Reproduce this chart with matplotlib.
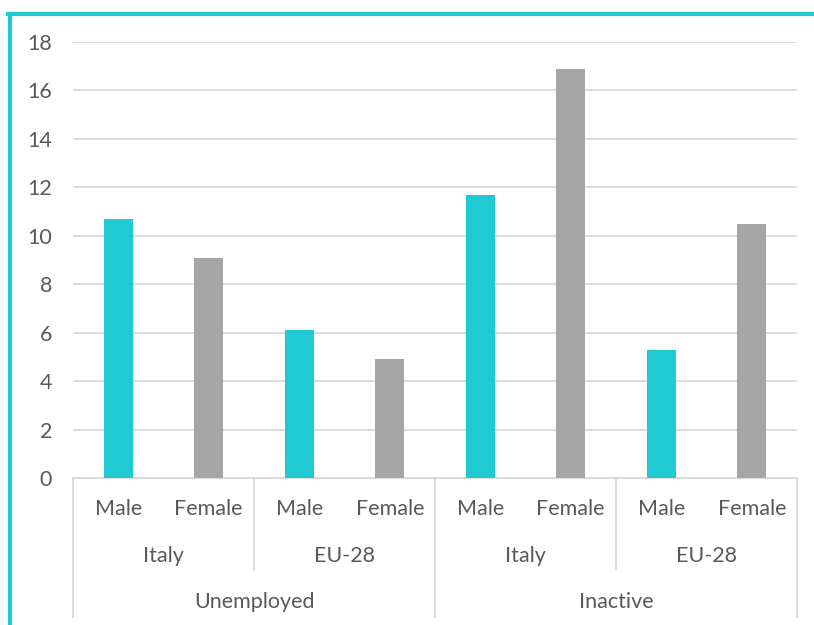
import matplotlib.pyplot as plt
from matplotlib.lines import Line2D
from matplotlib.transforms import blended_transform_factory

# Share of people (%) by status, area and sex
status = ['Unemployed', 'Inactive']
areas = ['Italy', 'EU-28']
sexes = ['Male', 'Female']
male_values = [10.7, 6.1, 11.7, 5.3]      # Italy/EU-28 unemployed, Italy/EU-28 inactive
female_values = [9.1, 4.9, 16.9, 10.5]

CYAN = '#1FCAD3'
GRAY = '#A5A5A5'
TEXT = '#595959'
GRID = '#D9D9D9'

plt.rcParams['font.family'] = ['Lato', 'DejaVu Sans']

fig = plt.figure(figsize=(8.14, 6.25), dpi=100)
ax = fig.add_axes([73 / 814, 147 / 625, 724 / 814, 436 / 625])

n = len(male_values)
male_x = [2 * i + 0.5 for i in range(n)]
female_x = [2 * i + 1.5 for i in range(n)]
ax.bar(male_x, male_values, width=0.32, color=CYAN, zorder=3)
ax.bar(female_x, female_values, width=0.32, color=GRAY, zorder=3)

ax.set_xlim(0, 2 * n)
ax.set_ylim(0, 18)
ax.set_yticks(range(0, 19, 2))
ax.yaxis.grid(True, color=GRID, linewidth=1.3, zorder=0)
ax.tick_params(axis='y', length=0, pad=15, labelsize=15.5, labelcolor=TEXT)
ax.set_xticks([])
for side in ['left', 'right', 'top']:
    ax.spines[side].set_visible(False)
ax.spines['bottom'].set_color(GRID)
ax.spines['bottom'].set_linewidth(1.3)

# Multi-level category axis
tr = blended_transform_factory(ax.transData, ax.transAxes)
fs = 15.5
for i in range(n):
    ax.text(male_x[i], -0.071, sexes[0], transform=tr, ha='center', va='center',
            fontsize=fs, color=TEXT)
    ax.text(female_x[i], -0.071, sexes[1], transform=tr, ha='center', va='center',
            fontsize=fs, color=TEXT)
    ax.text(2 * i + 1, -0.179, areas[i % 2], transform=tr, ha='center', va='center',
            fontsize=fs, color=TEXT)
for j, s in enumerate(status):
    ax.text(4 * j + 2, -0.284, s, transform=tr, ha='center', va='center',
            fontsize=fs, color=TEXT)

for k in range(n + 1):
    bottom = -0.319 if k % 2 == 0 else -0.211
    ax.plot([2 * k, 2 * k], [0, bottom], transform=tr, color=GRID,
            linewidth=1.3, clip_on=False)

# Frame accent along the top and left edges
fig.add_artist(Line2D([10 / 814, 10 / 814], [0, 611 / 625], color=CYAN,
                      linewidth=3.0, transform=fig.transFigure))
fig.add_artist(Line2D([8 / 814, 1], [611 / 625, 611 / 625], color=CYAN,
                      linewidth=3.0, transform=fig.transFigure))

fig.savefig('out.png', dpi=100)
